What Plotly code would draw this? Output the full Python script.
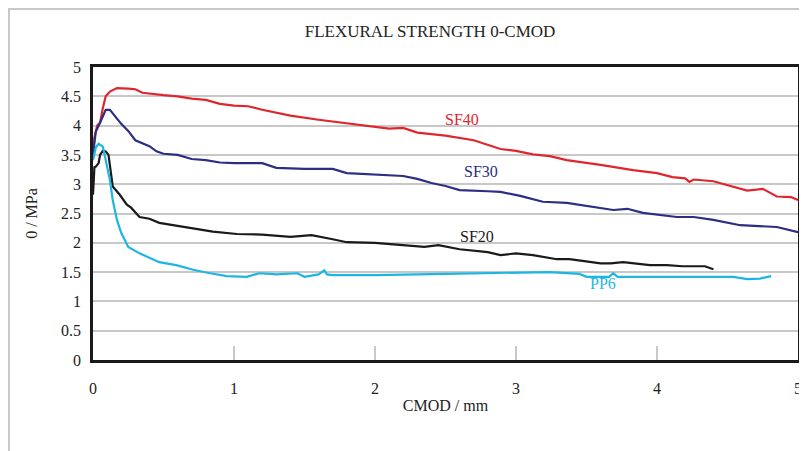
import plotly.graph_objects as go

# ---- data ----
sf40_x = [0.0, 0.01, 0.03, 0.05, 0.07, 0.09, 0.12, 0.17, 0.25, 0.3, 0.35, 0.45, 0.5, 0.6, 0.7, 0.8, 0.9, 1.0, 1.1, 1.2,
          1.3, 1.4, 1.6, 1.8, 2.0, 2.1, 2.2, 2.3, 2.5, 2.7, 2.89, 3.0, 3.12, 3.24, 3.36, 3.6, 3.83, 4.0, 4.11, 4.2, 4.23,
          4.26, 4.4, 4.64, 4.75, 4.85, 4.95, 5.0]
sf40_y = [3.5, 3.8, 4.0, 4.05, 4.3, 4.5, 4.58, 4.64, 4.63, 4.62, 4.56, 4.53, 4.52, 4.5, 4.46, 4.44, 4.37, 4.34, 4.33, 4.27,
          4.22, 4.17, 4.1, 4.04, 3.99, 3.95, 3.96, 3.88, 3.83, 3.75, 3.6, 3.57, 3.51, 3.48, 3.41, 3.33, 3.24, 3.19, 3.12,
          3.1, 3.04, 3.08, 3.05, 2.89, 2.92, 2.79, 2.78, 2.73]

sf30_x = [0.0, 0.02, 0.05, 0.09, 0.12, 0.15, 0.2, 0.25, 0.3, 0.4, 0.45, 0.5, 0.6, 0.7, 0.8, 0.9, 1.0, 1.2, 1.3, 1.5,
          1.7, 1.8, 2.0, 2.2, 2.3, 2.4, 2.5, 2.6, 2.8, 2.89, 3.03, 3.19, 3.36, 3.5, 3.69, 3.79, 3.9, 4.14, 4.26, 4.4,
          4.59, 4.85, 5.0]
sf30_y = [3.5, 3.9, 4.05, 4.27, 4.27, 4.18, 4.03, 3.91, 3.75, 3.65, 3.56, 3.52, 3.5, 3.43, 3.41, 3.37, 3.36, 3.36, 3.28,
          3.26, 3.26, 3.19, 3.16, 3.14, 3.09, 3.02, 2.97, 2.9, 2.88, 2.87, 2.8, 2.7, 2.68, 2.63, 2.56, 2.58, 2.51, 2.44,
          2.44, 2.39, 2.3, 2.27, 2.18]

sf20_x = [0.0, 0.01, 0.02, 0.04, 0.05, 0.07, 0.09, 0.11, 0.14, 0.19, 0.24, 0.27, 0.33, 0.4, 0.47, 0.59, 0.71, 0.85, 1.02,
          1.2, 1.4, 1.55, 1.7, 1.8, 2.0, 2.2, 2.35, 2.45, 2.6, 2.8, 2.89, 3.0, 3.12, 3.29, 3.38, 3.6, 3.67, 3.76, 3.95,
          4.07, 4.18, 4.34, 4.4]
sf20_y = [2.82, 3.29, 3.3, 3.36, 3.5, 3.57, 3.56, 3.5, 2.96, 2.82, 2.65, 2.6, 2.44, 2.41, 2.34, 2.29, 2.25, 2.19, 2.15,
          2.14, 2.1, 2.13, 2.06, 2.01, 2.0, 1.96, 1.93, 1.96, 1.89, 1.84, 1.79, 1.82, 1.79, 1.72, 1.72, 1.65, 1.65, 1.67,
          1.62, 1.62, 1.6, 1.6, 1.55]

pp6_x = [0.0, 0.02, 0.04, 0.07, 0.1, 0.12, 0.14, 0.17, 0.2, 0.25, 0.33, 0.4, 0.47, 0.59, 0.71, 0.83, 0.95, 1.09, 1.18,
         1.3, 1.45, 1.5, 1.6, 1.64, 1.66, 1.7, 2.0, 2.5, 2.89, 3.24, 3.45, 3.5, 3.66, 3.69, 3.72, 3.79, 4.2, 4.54, 4.64,
         4.73, 4.81]
pp6_y = [3.41, 3.63, 3.69, 3.64, 3.3, 3.07, 2.73, 2.39, 2.17, 1.93, 1.82, 1.74, 1.67, 1.62, 1.54, 1.48, 1.43, 1.42, 1.48,
         1.46, 1.48, 1.42, 1.46, 1.53, 1.46, 1.45, 1.45, 1.47, 1.48, 1.5, 1.47, 1.42, 1.42, 1.48, 1.42, 1.42, 1.42, 1.42,
         1.38, 1.39, 1.43]

series_names = ["SF40", "SF30", "SF20", "PP6"]
series_colors = ["#e0262d", "#2b2e83", "#1a1a1a", "#1db6e3"]
label_x = [2.62, 2.75, 2.72, 3.62]
label_y = [4.10, 3.21, 2.10, 1.30]

x_ticks = [0, 1, 2, 3, 4, 5]
y_ticks = [0, 0.5, 1, 1.5, 2, 2.5, 3, 3.5, 4, 4.5, 5]

font_family = "Liberation Serif"

# the page body has an 8px margin, so the figure is sized to fill the rest of the window
W, H = 799, 443
ML, MR, MT, MB = 85, 9, 59, 91
PW, PH = W - ML - MR, H - MT - MB

fig = go.Figure()
for name, xs, ys, col in zip(series_names, [sf40_x, sf30_x, sf20_x, pp6_x], [sf40_y, sf30_y, sf20_y, pp6_y],
                             series_colors):
    fig.add_trace(go.Scatter(x=xs, y=ys, mode="lines", name=name,
                             line=dict(color=col, width=2.2), showlegend=False))

for name, lx, ly, col in zip(series_names, label_x, label_y, series_colors):
    fig.add_annotation(x=lx, y=ly, text=name, showarrow=False,
                       font=dict(family=font_family, size=16, color=col))

# outer light-gray frame
fig.add_shape(type="rect", xref="paper", yref="paper",
              x0=(1 - ML) / PW, x1=(W + 10 - ML) / PW, y0=(PH + MT - H - 10) / PH, y1=(PH + MT - 1) / PH,
              line=dict(color="#c8c8c8", width=2), fillcolor="rgba(0,0,0,0)", layer="below")

fig.update_layout(
    width=W, height=H,
    margin=dict(l=ML, r=MR, t=MT, b=MB, autoexpand=False),
    paper_bgcolor="white", plot_bgcolor="white",
    font=dict(family=font_family, size=16, color="#222"),
    title=dict(text="FLEXURAL STRENGTH 0-CMOD", x=422 / W, xanchor="center", y=1 - 23 / H, yanchor="middle",
               font=dict(family=font_family, size=17, color="#222")),
    xaxis=dict(range=[0, 5], tickvals=x_ticks, showgrid=False, zeroline=False, automargin=False,
               showline=True, linecolor="#1a1a1a", linewidth=2.5, mirror=True,
               ticks="inside", ticklen=14, tickcolor="#c8c8c8", tickwidth=1.5, ticklabelstandoff=12,
               ticklabeloverflow="allow",
               title=dict(text="CMOD / mm", standoff=4, font=dict(family=font_family, size=16))),
    yaxis=dict(range=[0, 5], tickvals=y_ticks, showgrid=True, gridcolor="#c8c8c8", gridwidth=1.5,
               zeroline=False, showline=True, linecolor="#1a1a1a", linewidth=2.5, mirror=True, automargin=False,
               ticks="", ticklabelstandoff=6, ticklabeloverflow="allow",
               title=dict(text="0 / MPa", standoff=20, font=dict(family=font_family, size=16))),
)

fig.write_html("out.html")
